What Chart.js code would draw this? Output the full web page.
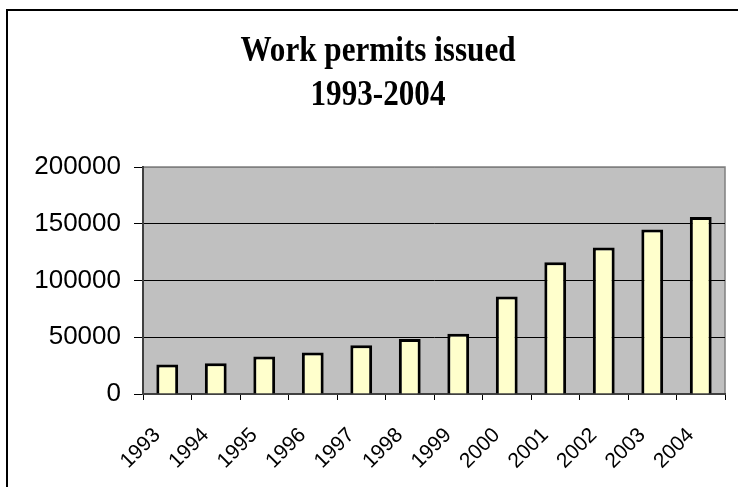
<!DOCTYPE html>
<html>
<head>
<meta charset="utf-8">
<script src="https://cdn.jsdelivr.net/npm/chart.js@4/dist/chart.umd.min.js"></script>
<style>
  html, body { margin: 0; padding: 0; background: #fff; overflow: hidden; }
  #frame { position: absolute; left: 6px; top: 9px; width: 800px; height: 600px; border: 2px solid #000; }
  #wrap { position: absolute; left: 0; top: 0; width: 738px; height: 487px; }
</style>
</head>
<body>
<div id="frame"></div>
<div id="wrap"><canvas id="chart" width="738" height="487"></canvas></div>
<script>
const titleLines = ["Work permits issued", "1993-2004"];
const years = ["1993", "1994", "1995", "1996", "1997", "1998", "1999", "2000", "2001", "2002", "2003", "2004"];
const permits = [26000, 27000, 33000, 36500, 43000, 48500, 53000, 86000, 116000, 129000, 145000, 156000];
const yTicks = [0, 50000, 100000, 150000, 200000];

// grey plot area with a thin grey frame, like the old spreadsheet chart
const plotBackground = {
  id: "plotBackground",
  beforeDraw(chart) {
    const { ctx, chartArea: a } = chart;
    ctx.save();
    ctx.fillStyle = "#c0c0c0";
    ctx.fillRect(a.left, a.top, a.right - a.left, a.bottom - a.top);
    ctx.strokeStyle = "#808080";
    ctx.lineWidth = 1.5;
    ctx.strokeRect(a.left, a.top, a.right - a.left, a.bottom - a.top);
    ctx.restore();
  },
};

// the title font in the original is a bit narrow, so draw it squeezed
const narrowTitle = {
  id: "narrowTitle",
  afterDraw(chart) {
    const ctx = chart.ctx;
    ctx.save();
    ctx.fillStyle = "#000";
    ctx.font = "bold 35px 'Liberation Serif'";
    ctx.textAlign = "center";
    ctx.textBaseline = "alphabetic";
    titleLines.forEach((line, i) => {
      ctx.save();
      ctx.translate(378, 61 + i * 44);
      ctx.scale(0.89, 1);
      ctx.fillText(line, 0, 0);
      ctx.restore();
    });
    ctx.restore();
  },
};

new Chart(document.getElementById("chart"), {
  type: "bar",
  data: {
    labels: years,
    datasets: [{
      data: permits,
      backgroundColor: "#ffffcc",
      borderColor: "#000",
      borderWidth: 3,
      barPercentage: 0.45,
      categoryPercentage: 1,
    }],
  },
  options: {
    responsive: false,
    animation: false,
    layout: { padding: { left: 31, right: 13, top: 167, bottom: 0 } },
    plugins: {
      legend: { display: false },
      tooltip: { enabled: false },
      title: { display: false },
    },
    scales: {
      x: {
        afterFit: (scale) => {
          scale.height = 93;
          scale.paddingLeft = 0;
          scale.paddingRight = 0;
        },
        grid: { offset: true, drawOnChartArea: false, drawTicks: true, tickLength: 6, tickColor: "#000" },
        border: { color: "#404040", width: 2 },
        ticks: {
          color: "#000",
          font: { family: "Liberation Sans", size: 21 },
          minRotation: 45,
          maxRotation: 45,
          padding: 23,
          labelOffset: -10,
        },
      },
      y: {
        min: 0,
        max: 200000,
        afterFit: (scale) => { scale.width = 112; },
        afterBuildTicks: (scale) => { scale.ticks = yTicks.map((v) => ({ value: v })); },
        grid: {
          color: (c) => (c.tick && c.tick.value === 200000 ? "#808080" : "#000"),
          lineWidth: 1,
          tickLength: 9,
          tickColor: "#000",
        },
        border: { color: "#404040", width: 2 },
        ticks: {
          color: "#000",
          font: { family: "Liberation Sans", size: 26 },
          padding: 13,
          callback: (v) => String(v),
        },
      },
    },
  },
  plugins: [plotBackground, narrowTitle],
});
</script>
</body>
</html>
